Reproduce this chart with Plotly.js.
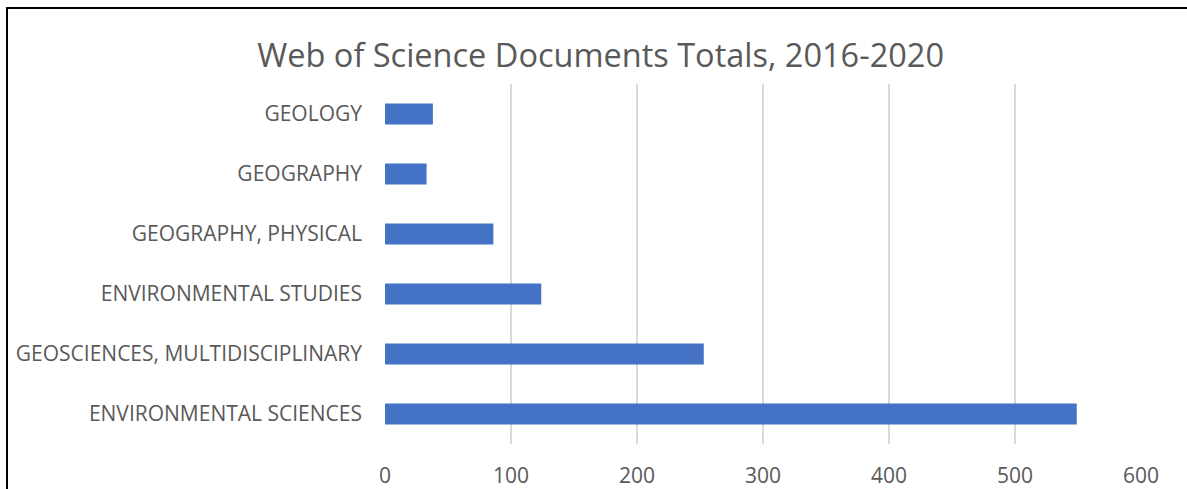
<!DOCTYPE html>
<html>
<head>
<meta charset="utf-8">
<script src="https://cdn.plot.ly/plotly-3.0.1.min.js"></script>
<style>
  html, body { margin: 0; padding: 0; background: #fff; }
  #wrap { position: relative; width: 1187px; height: 489px; overflow: hidden; }
  #chart { position: absolute; left: 0; top: 0; width: 1187px; height: 489px; }
  #frame { position: absolute; left: 6px; top: 7px; width: 1300px; height: 600px;
           border-left: 2px solid #000; border-top: 2px solid #000; pointer-events: none; }
</style>
</head>
<body>
<div id="wrap">
  <div id="chart"></div>
  <div id="frame"></div>
</div>
<script>
const categories = [
  "ENVIRONMENTAL SCIENCES",
  "GEOSCIENCES, MULTIDISCIPLINARY",
  "ENVIRONMENTAL STUDIES",
  "GEOGRAPHY, PHYSICAL",
  "GEOGRAPHY",
  "GEOLOGY"
];
const documents = [549, 253, 124, 86, 33, 38];
const xTicks = [0, 100, 200, 300, 400, 500, 600];
const titleText = "Web of Science Documents Totals, 2016-2020";

const font = "Open Sans, Noto Sans, sans-serif";
const textColor = "#595959";

const data = [{
  type: "bar",
  orientation: "h",
  y: categories,
  x: documents,
  marker: { color: "#4472C4" },
  hoverinfo: "x+y"
}];

const layout = {
  width: 1187,
  height: 489,
  margin: { l: 385, r: 45.5, t: 84, b: 45, pad: 0 },
  paper_bgcolor: "#ffffff",
  plot_bgcolor: "#ffffff",
  bargap: 0.65,
  showlegend: false,
  title: {
    text: titleText,
    font: { family: font, size: 32.5, color: textColor },
    x: 0.506,
    xanchor: "center",
    y: 0.862,
    yanchor: "bottom",
    yref: "container"
  },
  xaxis: {
    range: [0, 600],
    tickvals: xTicks,
    ticktext: xTicks.map(String),
    showgrid: true,
    gridcolor: "#D9D9D9",
    gridwidth: 1.6,
    zeroline: false,
    showline: false,
    ticks: "",
    ticklabelstandoff: 17,
    tickfont: { family: font, size: 21, color: textColor },
    fixedrange: true
  },
  yaxis: {
    type: "category",
    categoryorder: "array",
    categoryarray: categories,
    showgrid: false,
    zeroline: false,
    showline: false,
    ticks: "",
    ticklabelstandoff: 22,
    tickfont: { family: font, size: 21, color: textColor },
    fixedrange: true
  }
};

Plotly.newPlot("chart", data, layout, { displayModeBar: false, staticPlot: true });
</script>
</body>
</html>
